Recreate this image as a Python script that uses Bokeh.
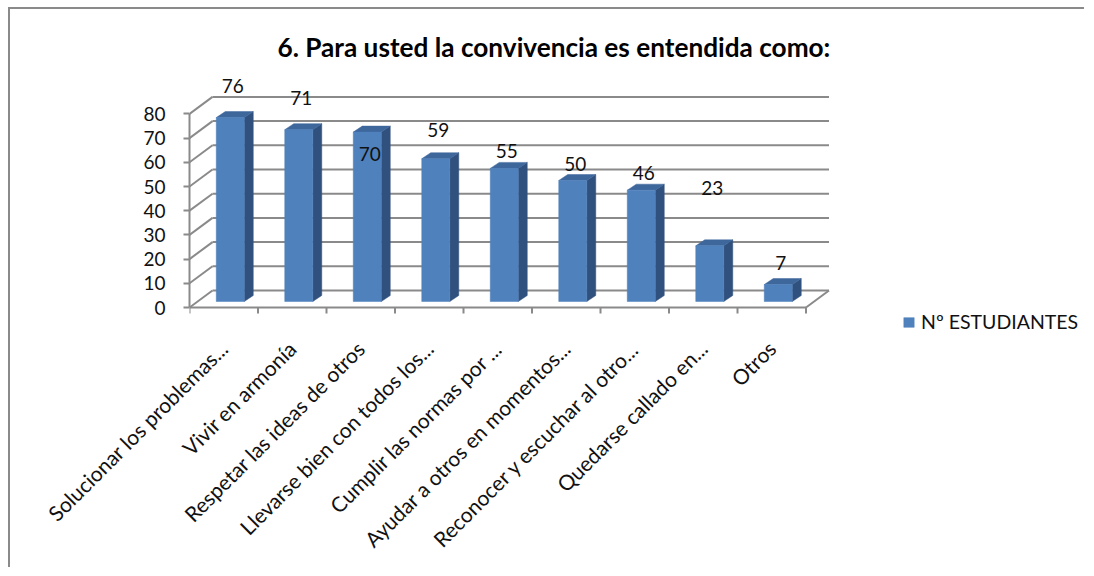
import math
from bokeh.plotting import figure
from bokeh.models import Range1d, FixedTicker, Legend, LegendItem, CustomJSTickFormatter
from bokeh.core.properties import value
from bokeh.embed import file_html
from bokeh.resources import INLINE

# ---------------- data ----------------
title_text = "6. Para usted la convivencia es entendida como:"
series_name = "Nº ESTUDIANTES"
categories = [
    "Solucionar los problemas...",
    "Vivir en armonía",
    "Respetar las ideas de otros",
    "Llevarse bien con todos los...",
    "Cumplir las normas por ...",
    "Ayudar a otros en momentos...",
    "Reconocer y escuchar al otro...",
    "Quedarse callado en...",
    "Otros",
]
values = [76, 71, 70, 59, 55, 50, 46, 23, 7]
y_ticks = [0, 10, 20, 30, 40, 50, 60, 70, 80]
# where Excel placed each data label (value units above the bar base)
label_pos = [89, 84, 61, 71, 62, 57, 53, 47, 16]

# ---------------- layout (page pixels) ----------------
CANVAS_X, CANVAS_Y = 10, 9            # canvas origin (margin + 2px border)
W, H = 1076, 560
FRAME_LEFT, FRAME_TOP = 189, 70
FRAME_BOTTOM = 345
FRAME_RIGHT = CANVAS_X + W
Y0 = 307                              # page y of value 0 on the front plane
PX_X = 68.5                           # px per category
PX_Y = 2.42                           # px per value unit
DEPTH_X, DEPTH_Y = 23, 17             # 3D depth offset (px)
BAR_SHIFT_X, BAR_SHIFT_Y = 6.5, 6     # bar front face shift (px)
BAR_W = 28                            # front face width (px)
BAR_DX, BAR_DY = 9, 6                 # bar depth (px)
LABEL_SHIFT = 0                       # category label shift (px)
LABEL_DROP = 37                       # category label gap below floor edge (px)

def ux(px):
    return px / PX_X

def uy(px):
    return px / PX_Y

FONT = "Lato"
GRID = "#8a8a8a"
FRONT = "#4F81BD"
TOP = "#3E679C"
SIDE = "#30507E"
TEXT = "#111111"

n = len(categories)

p = figure(
    width=W, height=H,
    x_range=Range1d(0, (FRAME_RIGHT - FRAME_LEFT) / PX_X),
    y_range=Range1d(-(FRAME_BOTTOM - Y0) / PX_Y, (Y0 - FRAME_TOP) / PX_Y),
    output_backend="svg", toolbar_location=None,
    min_border_left=FRAME_LEFT - CANVAS_X, min_border_top=FRAME_TOP - CANVAS_Y,
    min_border_right=0, min_border_bottom=CANVAS_Y + H - FRAME_BOTTOM,
    title=title_text,
)
p.styles = {"margin-left": "8px", "margin-top": "7px",
            "border-top": "2px solid #8a8a8a", "border-left": "2px solid #8a8a8a"}
p.outline_line_color = None
p.grid.visible = False
p.background_fill_color = "white"
p.border_fill_color = "white"

p.title.align = "left"
p.title.offset = 88
p.title.text_font = FONT
p.title.text_font_size = "26.2px"
p.title.text_font_style = "bold"
p.title.text_color = "#000000"
p.title.standoff = 15

# y axis (front plane)
ya = p.yaxis[0]
ya.ticker = FixedTicker(ticks=y_ticks)
ya.bounds = (y_ticks[0], y_ticks[-1])
ya.axis_line_color = GRID
ya.axis_line_width = 2
ya.major_tick_line_color = GRID
ya.major_tick_line_width = 2
ya.major_tick_out = 6
ya.major_tick_in = 0
ya.minor_tick_line_color = None
ya.major_label_standoff = 18
ya.major_label_text_font = FONT
ya.major_label_text_font_size = "19px"
ya.major_label_text_color = TEXT

centers = [i + 0.5 for i in range(n)]

# x axis: only the rotated category labels (pulled up to the floor edge)
xa = p.xaxis[0]
xa.ticker = FixedTicker(ticks=[c + ux(LABEL_SHIFT) for c in centers])
xa.formatter = CustomJSTickFormatter(args=dict(labels=categories),
                                     code="return labels[Math.floor(tick)]")
xa.axis_line_color = None
xa.major_tick_line_color = None
xa.minor_tick_line_color = None
xa.major_tick_out = 0
xa.major_tick_in = 0
xa.major_label_orientation = math.pi / 4
xa.major_label_standoff = LABEL_DROP - (FRAME_BOTTOM - Y0)
xa.major_label_text_font = FONT
xa.major_label_text_font_size = "21px"
xa.major_label_text_color = TEXT

dx, dy = ux(DEPTH_X), uy(DEPTH_Y)

# back wall gridlines
p.segment(x0=[dx] * len(y_ticks), y0=[t + dy for t in y_ticks],
          x1=[n + dx] * len(y_ticks), y1=[t + dy for t in y_ticks],
          line_color=GRID, line_width=2)
# side wall lines
p.segment(x0=[0] * len(y_ticks), y0=y_ticks,
          x1=[dx] * len(y_ticks), y1=[t + dy for t in y_ticks],
          line_color=GRID, line_width=2)
# floor front edge and right edge
p.segment(x0=[0, n], y0=[0, 0], x1=[n, n + dx], y1=[0, dy],
          line_color=GRID, line_width=2)
# category boundary ticks
p.segment(x0=list(range(n + 1)), y0=[0] * (n + 1),
          x1=list(range(n + 1)), y1=[-uy(6)] * (n + 1),
          line_color=GRID, line_width=2)

# bars
lefts = [c + ux(BAR_SHIFT_X - BAR_W / 2) for c in centers]
rights = [c + ux(BAR_SHIFT_X + BAR_W / 2) for c in centers]
base = uy(BAR_SHIFT_Y)
tops = [v + base for v in values]
bdx, bdy = ux(BAR_DX), uy(BAR_DY)

side_xs = [[r, r + bdx, r + bdx, r] for r in rights]
side_ys = [[base, base + bdy, t + bdy, t] for t in tops]
p.patches(xs=side_xs, ys=side_ys, fill_color=SIDE, line_color=SIDE, line_width=0.5)
top_xs = [[l, r, r + bdx, l + bdx] for l, r in zip(lefts, rights)]
top_ys = [[t, t, t + bdy, t + bdy] for t in tops]
p.patches(xs=top_xs, ys=top_ys, fill_color=TOP, line_color=TOP, line_width=0.5)
front = p.quad(left=lefts, right=rights, bottom=[base] * n, top=tops,
               fill_color=FRONT, line_color=FRONT, line_width=0.5)

# data labels
p.text(x=[c + ux(9) for c in centers], y=[lp + base for lp in label_pos],
       text=[str(v) for v in values], text_align="center", text_baseline="middle",
       text_font=value(FONT), text_font_size="19px", text_color=TEXT)

legend = Legend(items=[LegendItem(label=series_name, renderers=[front])],
                location=(902 - FRAME_LEFT, FRAME_BOTTOM - 333),
                glyph_width=13, glyph_height=12, label_standoff=6,
                padding=0, margin=0, border_line_color=None,
                background_fill_alpha=0, label_text_font=FONT,
                label_text_font_size="19.5px", label_text_color=TEXT,
                label_height=22)
p.add_layout(legend)

open("out.html", "w").write(file_html(p, INLINE))
